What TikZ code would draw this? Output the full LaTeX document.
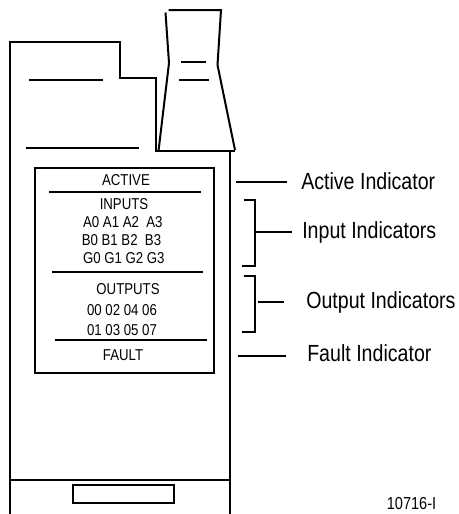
\documentclass[tikz,border=0pt]{standalone}
\usepackage{fontspec}
\setmainfont[FakeStretch=0.84]{Liberation Sans}
\usepackage{tikz}
\usetikzlibrary{arrows.meta, positioning}
\tikzset{
  outline/.style={line width=1.5pt, line join=miter},
  paneltext/.style={font=\fontsize{11.8}{13}\selectfont, inner sep=0pt},
  calloutlabel/.style={font=\fontsize{17.5}{19}\selectfont, anchor=west, inner sep=0pt},
}

\begin{document}
\begin{tikzpicture}[x=0.75pt, y=-0.75pt]
                  \useasboundingbox (0, 0) rectangle (459, 514);

                  % Housing
                  \draw[outline] (10, 514) -- (10, 42) -- (120, 42) -- (120, 78) -- (156, 78) -- (156, 151) -- (235, 151);
                  \draw[outline] (230, 151) -- (230, 514);
                  \draw[outline] (10, 480) -- (230, 480);
                  \draw[outline] (73, 485) rectangle (174, 503);
                  \draw[outline] (29, 80) -- (103, 80);
                  \draw[outline] (26, 148) -- (139, 148);

                  % Door
                  \draw[outline] (168.5, 10) -- (221, 10) -- (217.5, 65) -- (235, 150);
                  \draw[outline] (165.5, 12.5) -- (169, 63) -- (158.5, 151);
                  \draw[outline] (181, 62) -- (206, 62);
                  \draw[outline] (179, 80) -- (209, 80);

                  % Indicator panel
                  \draw[outline] (35, 168) rectangle (214, 373);
                  \draw[outline] (49, 192) -- (200.5, 192);
                  \draw[outline] (52, 272) -- (203, 272);
                  \draw[outline] (55, 340) -- (206.5, 340);

                  \node[paneltext] (activeText) at (126, 180.5) {ACTIVE};
                  \node[paneltext] (inputsText) at (124, 204.5) {INPUTS};
                  \node[paneltext] (rowA) at (122.8, 222) {A0 A1 A2\ \ A3};
                  \node[paneltext] (rowB) at (121.5, 240) {B0 B1 B2\ \ B3};
                  \node[paneltext] (rowG) at (123.8, 258) {G0 G1 G2 G3};
                  \node[paneltext] (outputsText) at (128, 289) {OUTPUTS};
                  \node[paneltext] (rowEven) at (122, 310) {00 02 04 06};
                  \node[paneltext] (rowOdd) at (122, 330) {01 03 05 07};
                  \node[paneltext] (faultText) at (123, 355) {FAULT};

                  % Callouts
                  \node[calloutlabel] (activeLabel) at (301, 181) {Active Indicator};
                  \node[calloutlabel] (inputLabel) at (302, 232) {Input Indicators};
                  \node[calloutlabel] (outputLabel) at (306, 302) {Output Indicators};
                  \node[calloutlabel] (faultLabel) at (307, 353.5) {Fault Indicator};

                  \coordinate (activeTick) at (236, 182);
                  \coordinate (inputTick) at (254.5, 232);
                  \coordinate (outputTick) at (258, 302);
                  \coordinate (faultTick) at (237.5, 356);

                  \draw[outline, shorten >=10.2pt] (activeTick) -- (activeTick -| activeLabel.west);
                  \draw[outline, shorten >=7.6pt] (inputTick) -- (inputTick -| inputLabel.west);
                  \draw[outline, shorten >=16.5pt] (outputTick) -- (outputTick -| outputLabel.west);
                  \draw[outline, shorten >=15.8pt] (faultTick) -- (faultTick -| faultLabel.west);

                  % Brackets
                  \draw[outline] (243.5, 200) -- (255, 200) -- (255, 266) -- (241.5, 266);
                  \draw[outline] (243.5, 276) -- (255, 276) -- (255, 332) -- (241.5, 332);

                  % Part number
                  \node[font=\fontsize{13}{14}\selectfont, inner sep=0pt] (partNumber) at (411.5, 504) {10716-I};
              \end{tikzpicture}
\end{document}
